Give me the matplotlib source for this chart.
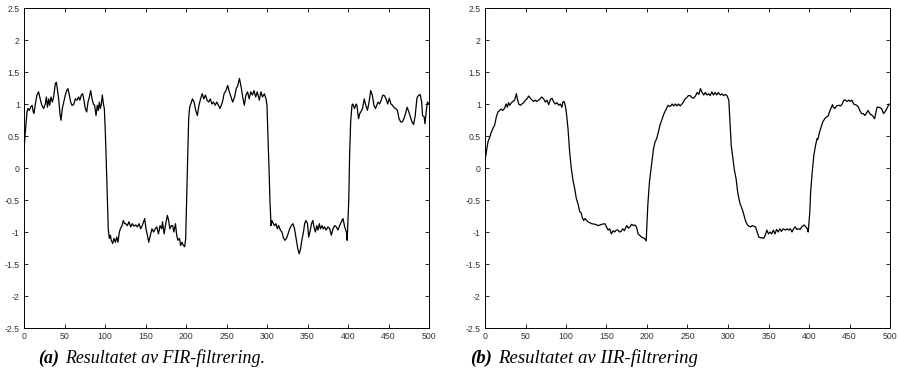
import matplotlib
matplotlib.use("Agg")
import matplotlib.pyplot as plt
import numpy as np

# ---- data ----
fir_x = [0, 1.6, 3.7, 5, 6.6, 8.2, 10, 11, 12.3, 14, 16, 18, 20, 22, 24.3, 26.3, 27.6, 29, 30.5, 31.7,
         33.3, 35, 36.6, 38.7, 40, 41.6, 42.8, 44.4, 45.7, 47.3, 49, 51, 52.7, 54.3, 56, 57.6, 59.3, 61.3,
         63.4, 65.4, 67.5, 69, 70.8, 72.4, 74, 75.7, 77.4, 79, 80.7, 82.3, 84, 85.6, 87.2, 88.9, 90.5, 91.8,
         93, 94.2, 95.5, 96.7, 98, 99.2, 100.4, 101.6, 102.9, 104, 105.3, 106.6, 107.8, 109.5, 111, 112.8,
         114.4, 116, 117.7, 119.3, 121, 122.6, 124.3, 125.5, 127.6, 129.6, 131.7, 133.7, 135.8, 137.9, 140,
         142, 144, 146, 149, 150.6, 152, 154, 156, 158, 160, 162, 164, 166, 168, 170, 171, 173, 175, 177,
         178.6, 180, 182, 183.5, 185, 187, 188.5, 190, 192, 193.4, 195, 196.7, 198.4, 199.6, 200.8, 202,
         203.3, 204.5, 205.8, 208, 210, 212, 214, 216, 218, 220, 222, 224, 226, 228, 230, 232, 234, 236,
         238, 240, 242, 245, 247, 249.4, 251.4, 253.5, 255.5, 257.6, 260, 262, 264, 266, 268, 270, 272,
         274, 276, 278, 280, 282, 284, 286, 288, 290.5, 292.5, 294.5, 296.7, 298.8, 300, 301, 302.5, 303.7,
         305, 306, 307.8, 309.4, 311, 312.8, 314.4, 316.5, 318.5, 320, 322, 324, 326, 328, 330, 332, 334,
         336, 338, 339.8, 341.5, 343, 345, 346.5, 348, 350, 351.5, 353, 355, 356.5, 358, 359.8, 361.4, 363,
         364.6, 366, 368, 369.5, 371, 373, 375.3, 377.4, 379.4, 381.5, 383.5, 385.6, 387.6, 389.7, 391.8,
         393.8, 395.9, 398, 399, 401, 402, 403.3, 404.9, 406, 408, 410, 411, 413, 414.5, 416, 418, 420,
         422, 424, 426, 428, 430, 432, 434, 437, 439, 441, 443, 445, 447, 449, 451, 453, 455, 457, 459,
         461, 463, 465, 467, 469, 471, 473, 475, 477, 479, 481, 483, 485, 486, 489, 491, 492, 494, 495,
         497, 498, 500]
fir_y = [0.28, 0.56, 0.875, 0.93, 0.9, 0.95, 0.98, 0.9, 0.85, 1.0, 1.14, 1.19, 1.08, 0.98, 0.93, 1.0,
         1.11, 0.95, 1.08, 0.98, 1.11, 1.03, 1.11, 1.32, 1.34, 1.19, 1.08, 0.85, 0.745, 0.93, 1.03, 1.14,
         1.21, 1.24, 1.14, 1.03, 0.98, 0.99, 1.08, 1.06, 1.11, 1.06, 1.14, 1.16, 1.06, 0.93, 0.875, 1.03,
         1.11, 1.21, 1.08, 1.0, 0.98, 0.82, 0.98, 0.9, 1.03, 0.93, 1.0, 1.14, 1.0, 0.93, 0.56, 0.09, -0.48,
         -0.95, -1.1, -1.05, -1.13, -1.18, -1.1, -1.16, -1.08, -1.16, -1.0, -0.94, -0.9, -0.82, -0.87,
         -0.87, -0.9, -0.84, -0.92, -0.87, -0.91, -0.89, -0.92, -0.87, -0.95, -0.9, -0.79, -0.95, -1.03,
         -1.16, -1.05, -0.95, -1.0, -0.95, -0.92, -1.03, -0.9, -0.95, -0.84, -1.03, -0.87, -0.74, -0.82,
         -0.95, -0.9, -0.9, -1.0, -0.87, -1.05, -1.13, -1.1, -1.21, -1.16, -1.21, -1.23, -1.1, -0.48, 0.2,
         0.77, 0.95, 1.0, 1.08, 1.03, 0.9, 0.82, 0.98, 1.08, 1.16, 1.08, 1.14, 1.06, 1.03, 1.08, 1.0, 1.03,
         0.98, 1.03, 0.98, 0.93, 1.03, 1.16, 1.21, 1.29, 1.19, 1.11, 1.03, 1.11, 1.24, 1.29, 1.4, 1.27,
         1.11, 0.98, 1.14, 1.19, 1.08, 1.19, 1.14, 1.21, 1.11, 1.19, 1.06, 1.19, 1.11, 1.16, 1.08, 0.98,
         0.56, -0.01, -0.53, -0.9, -0.82, -0.87, -0.9, -0.87, -0.95, -0.9, -0.97, -1.0, -1.08, -1.13, -1.1,
         -1.03, -0.95, -0.9, -0.87, -0.95, -1.1, -1.26, -1.34, -1.26, -1.13, -1.0, -0.87, -0.82, -0.87,
         -1.08, -1.0, -0.87, -0.82, -0.92, -1.0, -0.9, -0.97, -0.87, -0.95, -0.9, -0.95, -0.92, -0.97,
         -0.92, -0.95, -1.05, -0.95, -0.9, -0.92, -0.97, -0.9, -0.84, -0.79, -0.92, -1.0, -1.13, -0.48,
         0.2, 0.72, 0.98, 1.0, 0.93, 1.0, 0.98, 0.77, 0.85, 0.88, 0.93, 1.08, 0.98, 0.9, 1.03, 1.21, 1.14,
         0.98, 0.93, 1.03, 1.0, 1.06, 1.14, 1.13, 1.08, 1.0, 1.09, 1.0, 0.98, 0.94, 0.93, 0.9, 0.77, 0.72,
         0.72, 0.77, 0.85, 0.95, 0.88, 0.8, 0.72, 0.68, 0.82, 1.08, 1.12, 1.15, 1.03, 0.82, 0.8, 0.69,
         0.93, 1.03, 1.0]

iir_x = [0, 1.6, 3.7, 5.8, 7.8, 9.9, 11.9, 14, 16, 18, 20, 22, 24, 26, 27.6, 29, 30.5, 32.5, 34.6, 36.6,
         38.7, 40, 41.6, 43.6, 45.7, 47.7, 49.8, 51.8, 53.9, 56, 58, 60, 62, 64, 66, 68, 70, 72.4, 74.5,
         76.5, 78.6, 80.7, 82.7, 84.8, 86.8, 88.9, 91, 93, 95, 96, 97.5, 99, 100.4, 102.5, 104.5, 106.6,
         108.6, 110.7, 112.8, 114.8, 116.9, 119, 120, 121.8, 123.5, 127, 131.7, 136, 140, 144, 148, 150,
         152, 154, 156, 158, 160, 162, 164, 166, 168, 170, 172, 175, 177, 179, 181, 183, 185, 187, 189,
         191, 193, 195, 197, 199, 201, 203, 206, 208, 210, 212, 214, 216, 218, 219, 221, 224, 226, 228,
         230, 231, 233, 235, 237, 239, 241, 243, 245, 247, 249, 251, 253.5, 255.5, 257.6, 260, 262, 264,
         266, 268, 270, 272, 274, 276, 278, 280, 282, 284, 286, 288, 290.5, 292.5, 294.5, 296.7, 298.8,
         301, 302, 303, 304, 306, 308, 310, 312, 313, 315, 318, 320, 322, 324, 326, 328, 330, 332, 334,
         336, 338, 340, 342, 344, 346, 348, 350, 352, 354, 356, 358, 360, 362, 364, 366, 368, 371, 373,
         375, 377, 379, 381, 383, 385, 387, 389, 391, 394, 396, 398, 399, 401, 402, 404, 406, 408, 410,
         411, 413, 415, 417, 420, 422, 424, 425, 427, 429, 430, 432, 434, 437, 439, 441, 443, 445, 447,
         449, 451, 453, 455, 457, 459, 461, 463, 465, 467, 469, 471, 473, 475, 477, 479, 481, 484, 486,
         488, 490, 492, 494, 497, 499, 500]
iir_y = [0.12, 0.25, 0.41, 0.48, 0.56, 0.62, 0.67, 0.8, 0.875, 0.9, 0.92, 0.9, 0.93, 1.0, 0.95, 1.02,
         0.98, 1.02, 1.04, 1.06, 1.16, 1.08, 1.0, 0.98, 1.0, 1.02, 1.06, 1.08, 1.125, 1.09, 1.06, 1.04,
         1.06, 1.04, 1.06, 1.08, 1.11, 1.08, 1.03, 1.06, 0.99, 1.07, 1.09, 1.03, 1.0, 1.02, 0.98, 1.0,
         0.95, 1.03, 1.04, 0.98, 0.875, 0.61, 0.25, -0.01, -0.19, -0.32, -0.48, -0.56, -0.68, -0.71, -0.77,
         -0.82, -0.79, -0.84, -0.87, -0.88, -0.9, -0.88, -0.87, -0.92, -0.97, -0.95, -1.03, -0.98, -1.0,
         -0.97, -0.97, -1.0, -0.99, -0.95, -0.98, -0.9, -0.94, -0.92, -0.88, -0.9, -0.89, -0.92, -1.03,
         -1.05, -1.08, -1.09, -1.1, -1.14, -0.58, -0.22, 0.09, 0.3, 0.41, 0.46, 0.56, 0.67, 0.74, 0.77,
         0.85, 0.93, 0.98, 0.96, 0.98, 1.0, 0.97, 1.0, 0.97, 1.0, 0.97, 1.0, 1.03, 1.08, 1.1, 1.13, 1.13,
         1.1, 1.09, 1.13, 1.18, 1.15, 1.24, 1.18, 1.14, 1.18, 1.14, 1.16, 1.13, 1.19, 1.14, 1.18, 1.14,
         1.18, 1.14, 1.16, 1.13, 1.15, 1.13, 1.06, 0.82, 0.56, 0.35, 0.15, -0.04, -0.17, -0.38, -0.45,
         -0.56, -0.66, -0.75, -0.84, -0.89, -0.91, -0.92, -0.9, -0.91, -0.92, -1.0, -1.08, -1.09, -1.09,
         -1.1, -1.05, -0.97, -1.03, -1.0, -1.03, -0.97, -1.03, -0.96, -1.0, -0.95, -0.99, -0.95, -0.97,
         -0.95, -0.97, -0.95, -1.0, -0.95, -0.92, -0.96, -0.95, -0.96, -0.92, -0.89, -0.92, -0.95, -1.0,
         -0.69, -0.38, -0.06, 0.2, 0.35, 0.46, 0.45, 0.56, 0.64, 0.72, 0.78, 0.8, 0.82, 0.87, 0.93, 0.99,
         0.95, 0.93, 0.97, 0.98, 0.97, 1.0, 1.06, 1.06, 1.04, 1.06, 1.04, 1.06, 1.0, 0.99, 0.98, 0.95,
         0.89, 0.85, 0.85, 0.82, 0.86, 0.9, 0.85, 0.83, 0.81, 0.77, 0.95, 0.95, 0.94, 0.92, 0.85, 0.88,
         0.95, 1.0, 1.0]

x_ticks = [0, 50, 100, 150, 200, 250, 300, 350, 400, 450, 500]
y_ticks = [-2.5, -2, -1.5, -1, -0.5, 0, 0.5, 1, 1.5, 2, 2.5]
y_tick_labels = ["-2.5", "-2", "-1.5", "-1", "-0.5", "0", "0.5", "1", "1.5", "2", "2.5"]
captions = [("(a)", "Resultatet av FIR-filtrering."), ("(b)", "Resultatet av IIR-filtrering")]

W, H = 898, 384
fig = plt.figure(figsize=(W / 100, H / 100), dpi=100)

axes_px = [(24, 8, 405, 320), (485, 8, 405, 320)]
series = [(fir_x, fir_y), (iir_x, iir_y)]
for (l, t, w, h), (sx, sy) in zip(axes_px, series):
    ax = fig.add_axes([l / W, 1 - (t + h) / H, w / W, h / H])
    ax.plot(sx, sy, color="black", lw=0.9)
    ax.set_xlim(0, 500)
    ax.set_ylim(-2.5, 2.5)
    ax.set_xticks(x_ticks)
    ax.set_xticklabels([str(v) for v in x_ticks])
    ax.set_yticks(y_ticks)
    ax.set_yticklabels(y_tick_labels)
    ax.tick_params(direction="in", length=3, width=0.6, top=True, right=True,
                   labelsize=6.3, pad=3, colors="black")
    for lab in ax.get_xticklabels() + ax.get_yticklabels():
        lab.set_family("Liberation Sans")
        lab.set_color("#333333")
    for sp in ax.spines.values():
        sp.set_linewidth(0.7)

# caption placement: (left px, baseline px, target width px)
cap_pos = [(38, 363, 227), (470, 363, 227)]
fig.canvas.draw()
r = fig.canvas.get_renderer()
for (lbl, txt), (px, py, tw) in zip(captions, cap_pos):
    size = 14.0
    for _ in range(2):
        t1 = fig.text(px / W, 1 - py / H, lbl, fontsize=size, family="Liberation Serif",
                      style="italic", weight="bold", va="baseline", ha="left")
        bb = t1.get_window_extent(renderer=r)
        gap = size * 0.45
        t2 = fig.text((bb.x1 + gap) / W, 1 - py / H, txt, fontsize=size,
                      family="Liberation Serif", style="italic", va="baseline", ha="left")
        bb2 = t2.get_window_extent(renderer=r)
        total = bb2.x1 - bb.x0
        if abs(total - tw) < 1.5:
            break
        t1.remove()
        t2.remove()
        size = size * tw / total

fig.savefig("out.png", dpi=100)
